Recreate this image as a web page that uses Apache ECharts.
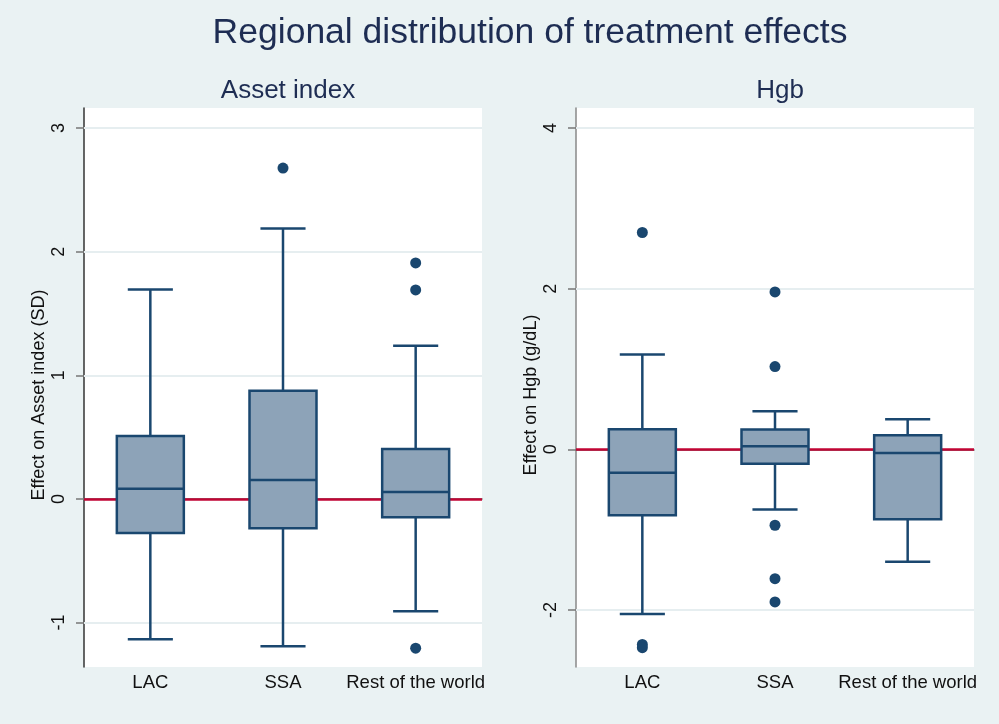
<!DOCTYPE html>
<html>
<head>
<meta charset="utf-8">
<script src="https://cdn.jsdelivr.net/npm/echarts@6/dist/echarts.min.js"></script>
<style>
html,body{margin:0;padding:0;background:#EAF2F3;}
#chart{width:999px;height:724px;}
</style>
</head>
<body>
<div id="chart"></div>
<script>
// ---- data ----
const categories = ['LAC', 'SSA', 'Rest of the world'];
// [lower whisker, Q1, median, Q3, upper whisker]
const assetStats = [
  [-1.136, -0.277, 0.082, 0.509, 1.693],
  [-1.193, -0.237, 0.152, 0.874, 2.187],
  [-0.910, -0.148, 0.055, 0.404, 1.239]
];
const assetOutliers = [[1, 2.676], [2, 1.909], [2, 1.690], [2, -1.208]];
const hgbStats = [
  [-2.05, -0.82, -0.29, 0.25, 1.18],
  [-0.75, -0.18, 0.04, 0.246, 0.475],
  [-1.40, -0.87, -0.045, 0.175, 0.375]
];
const hgbOutliers = [[0, 2.70], [0, -2.43], [0, -2.47], [1, 1.96], [1, 1.03], [1, -0.945], [1, -1.61], [1, -1.90]];
const assetTicks = [-1, 0, 1, 2, 3];
const hgbTicks = [-2, 0, 2, 4];

// ---- styling ----
const FONT = 'Liberation Sans, Arial, sans-serif';
const NAVY = '#1A476F';
const FILL = '#8DA3B8';
const RED = '#C10534';
const GRIDC = '#E6EEF0';

function renderBox(params, api) {
  const x = api.value(0);
  const pLow = api.coord([x, api.value(1)]);
  const pQ1 = api.coord([x, api.value(2)]);
  const pMed = api.coord([x, api.value(3)]);
  const pQ3 = api.coord([x, api.value(4)]);
  const pHigh = api.coord([x, api.value(5)]);
  const band = api.size([1, 0])[0];
  const bw = band * 0.505, cw = band * 0.34;
  const cx = pMed[0];
  const ls = {stroke: NAVY, lineWidth: 2.5, fill: null};
  return {
    type: 'group',
    children: [
      {type: 'line', shape: {x1: cx, y1: pQ3[1], x2: cx, y2: pHigh[1]}, style: ls},
      {type: 'line', shape: {x1: cx, y1: pQ1[1], x2: cx, y2: pLow[1]}, style: ls},
      {type: 'line', shape: {x1: cx - cw / 2, y1: pHigh[1], x2: cx + cw / 2, y2: pHigh[1]}, style: ls},
      {type: 'line', shape: {x1: cx - cw / 2, y1: pLow[1], x2: cx + cw / 2, y2: pLow[1]}, style: ls},
      {type: 'rect', shape: {x: cx - bw / 2, y: pQ3[1], width: bw, height: pQ1[1] - pQ3[1]},
        style: {fill: FILL, stroke: NAVY, lineWidth: 2.5}},
      {type: 'line', shape: {x1: cx - bw / 2, y1: pMed[1], x2: cx + bw / 2, y2: pMed[1]}, style: ls}
    ]
  };
}

function boxData(stats) {
  return stats.map((s, i) => [i].concat(s));
}

function yAxisDef(gridIndex, min, max, ticks, name, lineColor) {
  return {
    type: 'value', gridIndex: gridIndex, min: min, max: max,
    name: name, nameLocation: 'middle', nameGap: 36, nameRotate: 90,
    nameTextStyle: {fontFamily: FONT, fontSize: 18, color: '#111', padding: [0, 15, 0, 0]},
    axisLine: {show: true, lineStyle: {color: lineColor, width: 1.5}},
    axisTick: {show: true, length: 8, customValues: ticks, lineStyle: {color: '#777', width: 1.5}},
    axisLabel: {rotate: 90, margin: 16, customValues: ticks, fontFamily: FONT, fontSize: 18, color: '#111'},
    splitLine: {show: false}
  };
}

function xAxisDef(gridIndex) {
  return {
    type: 'category', gridIndex: gridIndex, data: categories,
    axisLine: {show: true, lineStyle: {color: '#666', width: 1.5}},
    axisTick: {show: false},
    axisLabel: {margin: 6, fontFamily: FONT, fontSize: 18.5, color: '#111', interval: 0},
    splitLine: {show: false}
  };
}

function refSeries(idx, ticks) {
  const lines = ticks.filter(t => t !== 0).map(t => ({yAxis: t, lineStyle: {color: GRIDC, width: 2, type: 'solid'}}));
  lines.push({yAxis: 0, lineStyle: {color: RED, width: 2.5, type: 'solid'}});
  return {
    type: 'scatter', xAxisIndex: idx, yAxisIndex: idx, data: [], z: 1, silent: true,
    markLine: {z: 1, symbol: ['none', 'none'], silent: true, label: {show: false}, animation: false, data: lines}
  };
}

const chart = echarts.init(document.getElementById('chart'), null, {renderer: 'canvas'});
chart.setOption({
  backgroundColor: '#EAF2F3',
  animation: false,
  title: [
    {text: 'Regional distribution of treatment effects', left: 525, top: 10, textAlign: 'center',
      textStyle: {fontFamily: FONT, fontSize: 35.5, fontWeight: 'normal', color: '#1E2D53'}},
    {text: 'Asset index', left: 283, top: 73, textAlign: 'center',
      textStyle: {fontFamily: FONT, fontSize: 26, fontWeight: 'normal', color: '#1E2D53'}},
    {text: 'Hgb', left: 775, top: 73, textAlign: 'center',
      textStyle: {fontFamily: FONT, fontSize: 26, fontWeight: 'normal', color: '#1E2D53'}}
  ],
  grid: [
    {left: 84, top: 108, width: 398, height: 559, show: true, backgroundColor: '#fff', borderWidth: 0},
    {left: 576, top: 108, width: 398, height: 559, show: true, backgroundColor: '#fff', borderWidth: 0}
  ],
  xAxis: [xAxisDef(0), xAxisDef(1)],
  yAxis: [
    yAxisDef(0, -1.36, 3.162, assetTicks, 'Effect on Asset index (SD)', '#333'),
    yAxisDef(1, -2.71, 4.25, hgbTicks, 'Effect on Hgb (g/dL)', '#888')
  ],
  series: [
    refSeries(0, assetTicks),
    refSeries(1, hgbTicks),
    {type: 'custom', xAxisIndex: 0, yAxisIndex: 0, z: 2, renderItem: renderBox,
      encode: {x: 0, y: [1, 2, 3, 4, 5]}, data: boxData(assetStats)},
    {type: 'custom', xAxisIndex: 1, yAxisIndex: 1, z: 2, renderItem: renderBox,
      encode: {x: 0, y: [1, 2, 3, 4, 5]}, data: boxData(hgbStats)},
    {type: 'scatter', xAxisIndex: 0, yAxisIndex: 0, z: 3, symbolSize: 11,
      itemStyle: {color: NAVY, opacity: 1}, data: assetOutliers},
    {type: 'scatter', xAxisIndex: 1, yAxisIndex: 1, z: 3, symbolSize: 11,
      itemStyle: {color: NAVY, opacity: 1}, data: hgbOutliers}
  ]
});
</script>
</body>
</html>
